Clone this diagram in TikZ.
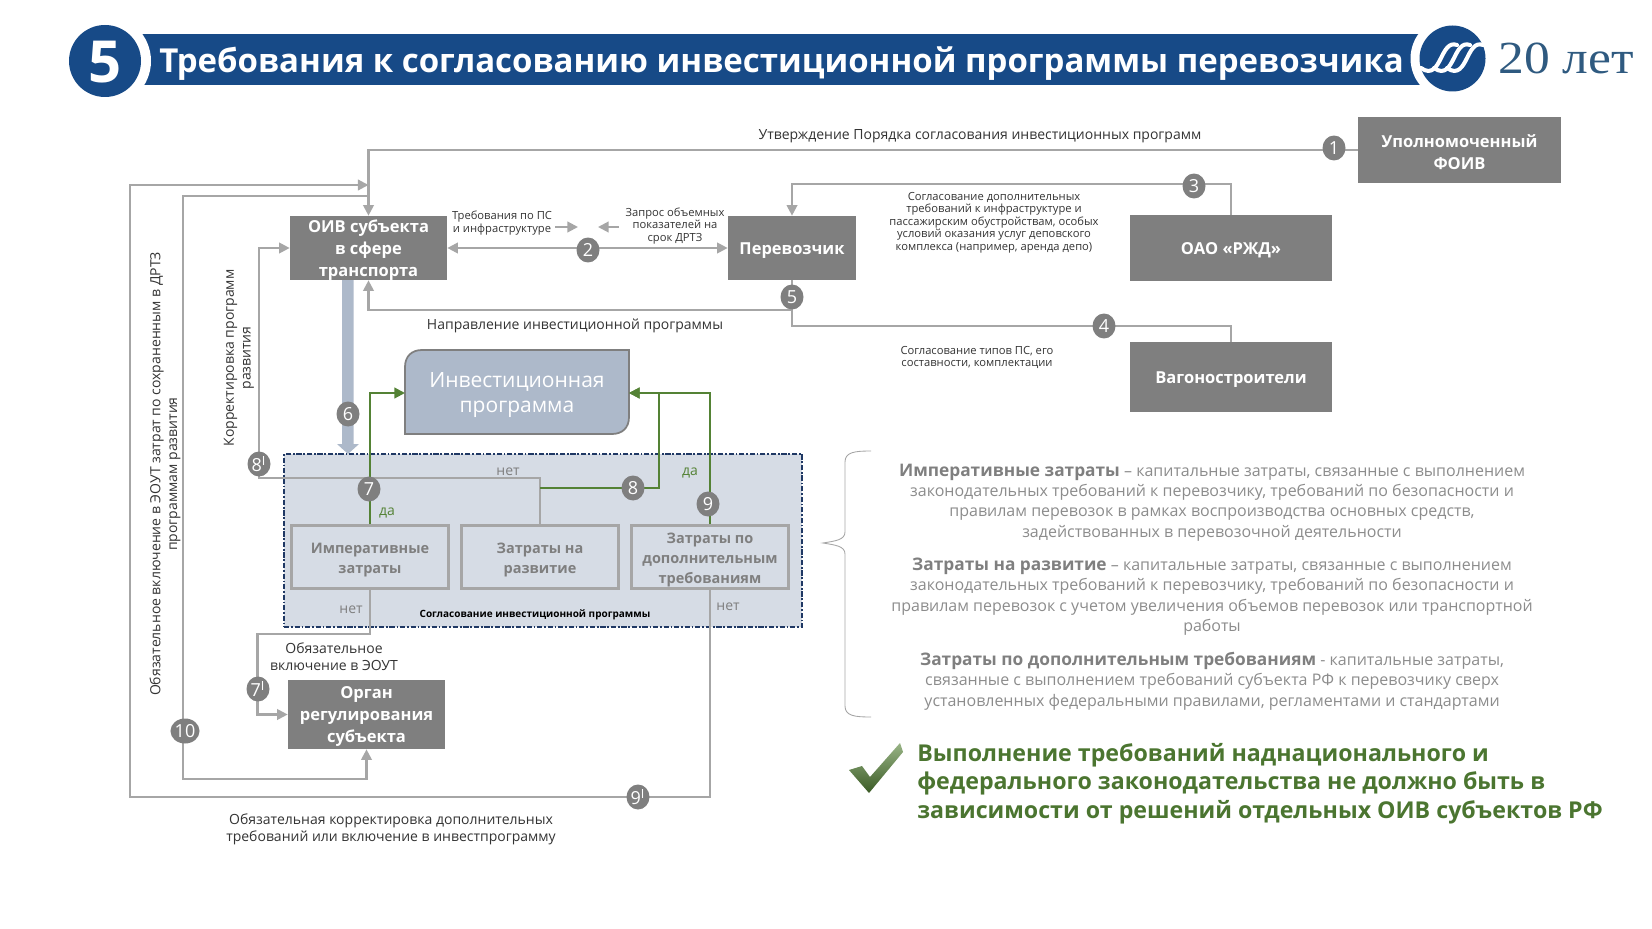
\documentclass[tikz,border=0pt]{standalone}
\usepackage{fontspec}
\setmainfont{Open Sans}
\newfontfamily\logofont[FakeStretch=1.12]{Liberation Serif}
\usetikzlibrary{arrows.meta, shapes.geometric}
\definecolor{barblue}{HTML}{174A87}
\definecolor{logoblue}{HTML}{2F5A80}
\definecolor{boxgray}{HTML}{7F7F7F}
\definecolor{linegray}{HTML}{A6A6A6}
\definecolor{progblue}{HTML}{ADB9CA}
\definecolor{zonefill}{HTML}{D6DCE5}
\definecolor{zoneline}{HTML}{1F3864}
\definecolor{yesgreen}{HTML}{548235}
\definecolor{textgray}{HTML}{8C8C8C}
\newcommand{\sizepx}[2]{\fontsize{\dimexpr#1pt*569/1000\relax}{\dimexpr#2pt*569/1000\relax}\selectfont}
\newcommand{\dropped}[3]{\raisebox{-#1}[\height][\depth]{\parbox{#2}{\centering #3}}}

\begin{document}
\begin{tikzpicture}[
  x=0.02cm, y=-0.02cm,
  >={Triangle[width=6pt,length=6pt]},
  every node/.style={inner sep=0pt, align=center},
  actor/.style={draw=none, fill=boxgray, text=white, font=\sizepx{16.5}{22}\bfseries},
  cost/.style={draw=linegray, line width=1.2pt, fill=zonefill, text=boxgray, minimum width=3.14cm, minimum height=1.26cm, font=\sizepx{14.5}{20}\bfseries},
  numb/.style={ellipse, fill=boxgray, text=white, minimum width=0.46cm, minimum height=0.5cm, font=\sizepx{18}{20}},
  note/.style={text=black!80, font=\sizepx{11.2}{12.6}},
  lbl/.style={text=black!80, font=\sizepx{14}{16.8}},
  flow/.style={draw=linegray, line width=1.2pt},
  yes/.style={draw=yesgreen, line width=1.2pt},
  para/.style={text=textgray, font=\sizepx{16}{20.4}},
]
\useasboundingbox (0,0) rectangle (1652,929);

% --- title bar ---
\fill[barblue] (130,34) rectangle (1440,85);
\fill[white] (105,61) circle (46);
\fill[barblue] (105,61) circle (36);
\node[text=white, font=\sizepx{58}{60}\bfseries] (num) at (105,62) {5};
\node[anchor=west, text=white, font=\sizepx{33}{36}\bfseries] (title) at (159,64)
  {Требования к согласованию инвестиционной программы перевозчика};
\fill[white] (1452.5,58.5) circle (42);
\fill[barblue] (1452.5,58.5) circle (33);
\foreach \dx in {0,13,26}
  \draw[white, line width=2.3pt, line cap=round]
    (1421+\dx,68) .. controls (1432+\dx,76) and (1437+\dx,66) .. (1441+\dx,58)
    .. controls (1445+\dx,50) and (1449+\dx,42) .. (1457+\dx,45);
\node[anchor=west, text=logoblue, font=\logofont\sizepx{46}{48}] (years) at (1498,58) {20 лет};

% --- actor boxes ---
\node[actor, minimum width=3.14cm, minimum height=1.28cm] (oiv) at (368.5,248) {\dropped{1.2pt}{3cm}{ОИВ субъекта\\в сфере\\транспорта}};
\node[actor, minimum width=2.56cm, minimum height=1.28cm] (carrier) at (792,248) {\dropped{1.2pt}{2.5cm}{Перевозчик}};
\node[actor, minimum width=4.06cm, minimum height=1.32cm] (foiv) at (1459.5,150) {\dropped{1.2pt}{4cm}{Уполномоченный\\ФОИВ}};
\node[actor, minimum width=4.04cm, minimum height=1.32cm] (rzd) at (1231,248) {\dropped{1.2pt}{4cm}{ОАО «РЖД»}};
\node[actor, minimum width=4.04cm, minimum height=1.40cm] (wagon) at (1231,377) {\dropped{1.2pt}{4cm}{Вагоностроители}};
\node[actor, minimum width=3.14cm, minimum height=1.38cm] (organ) at (366.5,714.5) {\dropped{1.2pt}{3cm}{Орган\\регулирования\\субъекта}};

% --- approval zone and programme ---
\node[draw=zoneline, line width=1pt, dash pattern=on 3pt off 1pt on 1pt off 1pt, fill=zonefill,
  minimum width=10.36cm, minimum height=3.46cm] (zone) at (543,540.5) {};
\draw[fill=progblue, draw=boxgray, line width=1pt]
  (405,434) -- (405,367) .. controls (405,356) and (412,350) .. (422,350) -- (629,350) -- (629,417)
  .. controls (629,428) and (622,434) .. (612,434) -- cycle;
\node[text=white, font=\sizepx{21}{24.5}] (prog) at (517,395) {Инвестиционная\\программа};
\node[cost] (imp) at (370,557) {\dropped{1.7pt}{3cm}{Императивные\\затраты}};
\node[cost] (dev) at (540,557) {\dropped{1.7pt}{3cm}{Затраты на\\развитие}};
\node[cost] (extra) at (710,557) {\dropped{1.5pt}{3cm}{Затраты по\\дополнительным\\требованиям}};
\node[text=black, font=\sizepx{10}{12}\bfseries] (zonecap) at (535,615) {Согласование инвестиционной программы};

% --- fat arrow down to the zone ---
\fill[progblue] (342,280) -- (353.5,280) -- (353.5,444) -- (359,444) -- (348,454) -- (337,444) -- (342,444) -- cycle;

% --- gray connectors ---
\coordinate (outer) at (130,797);
\coordinate (inner) at (183,779);
\draw[flow, ->] (foiv.west) -- (oiv.north |- foiv.west) -- (oiv.north);
\draw[flow, <->] (oiv.east |- 0,248) -- (carrier.west |- 0,248);
\draw[flow, ->] (rzd.north) |- (carrier.north |- 0,184) -- (carrier.north);
\draw[flow, ->] (carrier.south) -- (carrier.south |- 0,310) -| (oiv.south);
\draw[flow] (carrier.south |- 0,310) |- (wagon.north |- 0,326) -- (wagon.north);
\draw[flow, ->] (extra.south) |- (outer) -- (outer |- 0,185) -- (oiv.north |- 0,185);
\draw[flow, ->] (oiv.north |- 0,196) -- (inner |- 0,196) -- (inner) -| (organ.south);
\draw[flow, ->] (dev.north) |- (259,478) |- (oiv.west);
\draw[flow, ->] (imp.south) |- (257.5,634) |- (organ.west);
\draw[flow, ->] (555,227) -- (578,227);
\draw[flow, ->] (619,227) -- (598,227);

% --- green connectors ---
\draw[yes, ->] (imp.north) |- (405,393);
\draw[yes, ->] (dev.north |- 0,488) -| (659,393) -- (629,393);
\draw[yes, ->] (extra.north) |- (629,393);

% --- numbered marks ---
\node[numb] (n1) at (1334,148) {1};
\node[numb] (n2) at (588,250) {2};
\node[numb] (n3) at (1194,186) {3};
\node[numb] (n4) at (1104,326) {4};
\node[numb] (n5) at (792,297) {5};
\node[numb] (n6) at (348,414) {6};
\node[numb] (n7) at (369,489) {7};
\node[numb] (n8) at (633,488) {8};
\node[numb] (n9) at (708,504) {9};
\node[numb] (n7b) at (258,689) {7\textsuperscript{I}};
\node[numb] (n8b) at (259,464) {8\textsuperscript{I}};
\node[numb] (n9b) at (638,797) {9\textsuperscript{I}};
\node[numb] (n10) at (185,731) {10};

% --- labels on the connectors ---
\node[lbl] (t1) at (980,136) {Утверждение Порядка согласования инвестиционных программ};
\node[lbl] (t2) at (575,326) {Направление инвестиционной программы};
\node[note] (t3) at (502,223) {Требования по ПС\\и инфраструктуре};
\node[note] (t4) at (675,226) {Запрос объемных\\показателей на\\срок ДРТЗ};
\node[note] (t5) at (994,222.5) {Согласование дополнительных\\требований к инфраструктуре и\\пассажирским обустройствам, особых\\условий оказания услуг деповского\\комплекса (например, аренда депо)};
\node[note] (t6) at (977,357.5) {Согласование типов ПС, его\\составности, комплектации};
\node[lbl, rotate=90] (t7) at (165,474) {Обязательное включение в ЭОУТ затрат по сохраненным в ДРТЗ\\программам развития};
\node[lbl, rotate=90] (t8) at (239,358) {Корректировка программ\\развития};
\node[lbl] (t9) at (334,657) {Обязательное\\включение в ЭОУТ};
\node[lbl] (t10) at (391,829.5) {Обязательная корректировка дополнительных\\требований или включение в инвестпрограмму};
\node[text=boxgray, font=\sizepx{14}{16}] (no1) at (508,472) {нет};
\node[text=boxgray, font=\sizepx{14}{16}] (no2) at (351,610) {нет};
\node[text=boxgray, font=\sizepx{14}{16}] (no3) at (728,607) {нет};
\node[text=yesgreen, font=\sizepx{14}{16}] (yes1) at (387,513) {да};
\node[text=yesgreen, font=\sizepx{14}{16}] (yes2) at (690,473) {да};

% --- brace and definitions ---
\draw[linegray, line width=0.5pt]
  (871,451) .. controls (855,451) and (845,452) .. (845,462) -- (845,532)
  .. controls (845,540) and (835,541) .. (823,543)
  .. controls (835,545) and (845,546) .. (845,554) -- (845,706)
  .. controls (845,716) and (855,717) .. (871,717);
\node[para] (d1) at (1212,502.5) {{\color{boxgray}\sizepx{17.3}{20.4}\bfseries Императивные затраты} – капитальные затраты, связанные с выполнением\\законодательных требований к перевозчику, требований по безопасности и\\правилам перевозок в рамках воспроизводства основных средств,\\задействованных в перевозочной деятельности};
\node[para] (d2) at (1212,596.5) {{\color{boxgray}\sizepx{17.3}{20.4}\bfseries Затраты на развитие} – капитальные затраты, связанные с выполнением\\законодательных требований к перевозчику, требований по безопасности и\\правилам перевозок с учетом увеличения объемов перевозок или транспортной\\работы};
\node[para] (d3) at (1212,681) {{\color{boxgray}\sizepx{17.3}{20.4}\bfseries Затраты по дополнительным требованиям} - капитальные затраты,\\связанные с выполнением требований субъекта РФ к перевозчику сверх\\установленных федеральными правилами, регламентами и стандартами};

% --- conclusion ---
\shade[top color=yesgreen!60, bottom color=yesgreen!70!black]
  (849,770) -- (862,766) -- (870,777) -- (900,743) -- (903,752) -- (869,793) -- cycle;
\node[anchor=west, align=left, text=yesgreen!90!black, font=\sizepx{23.2}{28.5}\bfseries] (goal) at (917,783.5)
  {Выполнение требований наднационального и\\федерального законодательства не должно быть в\\зависимости от решений отдельных ОИВ субъектов РФ};
\end{tikzpicture}
\end{document}
